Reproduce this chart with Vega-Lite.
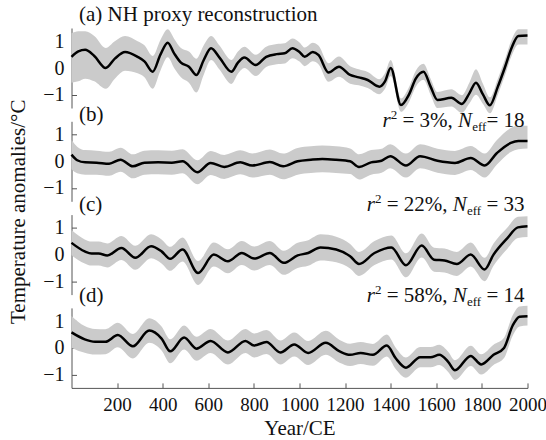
{
  "$schema": "https://vega.github.io/schema/vega-lite/v6.json",
  "padding": {"left": 6.5, "top": 4, "right": 0, "bottom": 0},
  "spacing": 13.3,
  "bounds": "flush",
  "config": {
    "view": {"stroke": null},
    "font": "Liberation Serif",
    "axis": {
      "grid": false,
      "labelFont": "Liberation Serif",
      "labelFontSize": 20,
      "labelColor": "#111",
      "domainColor": "#555",
      "tickColor": "#555",
      "tickSize": -5,
      "titleFont": "Liberation Serif",
      "titleFontSize": 21,
      "titleFontWeight": "normal",
      "titleColor": "#111",
      "labelFlush": false,
      "labelOverlap": false
    },
    "text": {"font": "Liberation Serif", "fontSize": 21, "color": "#111"}
  },
  "datasets": {
    "a": [
      {"year": 0, "v": 0.42, "lo": -0.55, "hi": 1.3},
      {"year": 30, "v": 0.62, "lo": -0.5, "hi": 1.38},
      {"year": 60, "v": 0.68, "lo": -0.4, "hi": 1.38},
      {"year": 100, "v": 0.45, "lo": -0.5, "hi": 1.2},
      {"year": 150, "v": 0.0, "lo": -0.78, "hi": 0.75},
      {"year": 190, "v": 0.35, "lo": -0.4, "hi": 1.0},
      {"year": 235, "v": 0.6, "lo": -0.1, "hi": 1.2},
      {"year": 290, "v": 0.42, "lo": -0.2, "hi": 1.0},
      {"year": 320, "v": 0.25, "lo": -0.35, "hi": 0.85},
      {"year": 356, "v": -0.14, "lo": -0.78, "hi": 0.45},
      {"year": 390, "v": 0.5, "lo": -0.1, "hi": 1.05},
      {"year": 422, "v": 0.95, "lo": 0.4, "hi": 1.45},
      {"year": 450, "v": 0.55, "lo": 0.0, "hi": 1.1},
      {"year": 480, "v": 0.2, "lo": -0.35, "hi": 0.75},
      {"year": 515, "v": 0.05, "lo": -0.55, "hi": 0.62},
      {"year": 548, "v": -0.26, "lo": -0.92, "hi": 0.35},
      {"year": 580, "v": 0.3, "lo": -0.25, "hi": 0.85},
      {"year": 612, "v": 0.74, "lo": 0.3, "hi": 1.2},
      {"year": 650, "v": 0.38, "lo": -0.07, "hi": 0.83},
      {"year": 701, "v": -0.14, "lo": -0.6, "hi": 0.3},
      {"year": 730, "v": 0.2, "lo": -0.22, "hi": 0.62},
      {"year": 758, "v": 0.39, "lo": 0.0, "hi": 0.8},
      {"year": 808, "v": 0.11, "lo": -0.3, "hi": 0.5},
      {"year": 854, "v": 0.42, "lo": 0.04, "hi": 0.8},
      {"year": 900, "v": 0.52, "lo": 0.14, "hi": 0.9},
      {"year": 935, "v": 0.55, "lo": 0.17, "hi": 0.93},
      {"year": 969, "v": 0.74, "lo": 0.37, "hi": 1.11},
      {"year": 1000, "v": 0.6, "lo": 0.24, "hi": 0.96},
      {"year": 1023, "v": 0.42, "lo": 0.07, "hi": 0.77},
      {"year": 1058, "v": 0.6, "lo": 0.25, "hi": 0.95},
      {"year": 1084, "v": 0.48, "lo": 0.13, "hi": 0.83},
      {"year": 1127, "v": -0.17, "lo": -0.52, "hi": 0.18},
      {"year": 1173, "v": 0.05, "lo": -0.33, "hi": 0.43},
      {"year": 1222, "v": -0.26, "lo": -0.59, "hi": 0.07},
      {"year": 1260, "v": -0.35, "lo": -0.65, "hi": -0.05},
      {"year": 1299, "v": -0.45, "lo": -0.75, "hi": -0.15},
      {"year": 1350, "v": -0.7, "lo": -0.98, "hi": -0.42},
      {"year": 1375, "v": -0.5, "lo": -0.78, "hi": -0.2},
      {"year": 1400, "v": 0.0, "lo": -0.3, "hi": 0.3},
      {"year": 1445, "v": -1.39, "lo": -1.64, "hi": -1.14},
      {"year": 1480, "v": -1.0, "lo": -1.28, "hi": -0.72},
      {"year": 1510, "v": -0.4, "lo": -0.7, "hi": -0.1},
      {"year": 1544, "v": -0.14, "lo": -0.44, "hi": 0.16},
      {"year": 1575, "v": -0.7, "lo": -1.0, "hi": -0.4},
      {"year": 1605, "v": -1.2, "lo": -1.5, "hi": -0.9},
      {"year": 1666, "v": -1.12, "lo": -1.44, "hi": -0.8},
      {"year": 1712, "v": -1.35, "lo": -1.68, "hi": -1.02},
      {"year": 1745, "v": -0.95, "lo": -1.33, "hi": -0.55},
      {"year": 1774, "v": -0.55, "lo": -1.0, "hi": -0.05},
      {"year": 1805, "v": -1.0, "lo": -1.35, "hi": -0.6},
      {"year": 1835, "v": -1.4, "lo": -1.7, "hi": -1.1},
      {"year": 1870, "v": -0.7, "lo": -1.0, "hi": -0.4},
      {"year": 1900, "v": 0.0, "lo": -0.3, "hi": 0.3},
      {"year": 1930, "v": 0.75, "lo": 0.45, "hi": 1.05},
      {"year": 1960, "v": 1.2, "lo": 0.88, "hi": 1.45},
      {"year": 2000, "v": 1.22, "lo": 0.88, "hi": 1.45}
    ],
    "b": [
      {"year": 0, "v": 0.25, "lo": -0.3, "hi": 0.8},
      {"year": 25, "v": 0.04, "lo": -0.45, "hi": 0.55},
      {"year": 60, "v": -0.04, "lo": -0.5, "hi": 0.42},
      {"year": 110, "v": -0.05, "lo": -0.5, "hi": 0.4},
      {"year": 165, "v": -0.09, "lo": -0.54, "hi": 0.36},
      {"year": 215, "v": 0.06, "lo": -0.39, "hi": 0.51},
      {"year": 269, "v": -0.19, "lo": -0.64, "hi": 0.26},
      {"year": 320, "v": -0.05, "lo": -0.5, "hi": 0.4},
      {"year": 380, "v": -0.04, "lo": -0.49, "hi": 0.41},
      {"year": 440, "v": -0.05, "lo": -0.5, "hi": 0.4},
      {"year": 487, "v": 0.0, "lo": -0.45, "hi": 0.45},
      {"year": 552, "v": -0.41, "lo": -0.86, "hi": 0.04},
      {"year": 610, "v": -0.06, "lo": -0.51, "hi": 0.39},
      {"year": 670, "v": -0.21, "lo": -0.66, "hi": 0.24},
      {"year": 740, "v": -0.04, "lo": -0.49, "hi": 0.41},
      {"year": 793, "v": -0.16, "lo": -0.61, "hi": 0.29},
      {"year": 870, "v": -0.03, "lo": -0.5, "hi": 0.44},
      {"year": 928, "v": -0.19, "lo": -0.67, "hi": 0.29},
      {"year": 992, "v": 0.0, "lo": -0.5, "hi": 0.5},
      {"year": 1050, "v": 0.06, "lo": -0.44, "hi": 0.56},
      {"year": 1100, "v": 0.09, "lo": -0.41, "hi": 0.59},
      {"year": 1160, "v": 0.06, "lo": -0.44, "hi": 0.56},
      {"year": 1222, "v": 0.0, "lo": -0.48, "hi": 0.48},
      {"year": 1261, "v": -0.21, "lo": -0.68, "hi": 0.26},
      {"year": 1314, "v": -0.04, "lo": -0.5, "hi": 0.42},
      {"year": 1360, "v": 0.02, "lo": -0.43, "hi": 0.47},
      {"year": 1398, "v": 0.19, "lo": -0.26, "hi": 0.64},
      {"year": 1467, "v": -0.16, "lo": -0.61, "hi": 0.29},
      {"year": 1529, "v": 0.19, "lo": -0.26, "hi": 0.64},
      {"year": 1605, "v": 0.02, "lo": -0.43, "hi": 0.47},
      {"year": 1682, "v": -0.06, "lo": -0.51, "hi": 0.39},
      {"year": 1751, "v": 0.12, "lo": -0.33, "hi": 0.57},
      {"year": 1812, "v": -0.16, "lo": -0.61, "hi": 0.29},
      {"year": 1866, "v": 0.31, "lo": -0.12, "hi": 0.8},
      {"year": 1927, "v": 0.69, "lo": 0.35, "hi": 1.25},
      {"year": 1960, "v": 0.76, "lo": 0.45, "hi": 1.33},
      {"year": 2000, "v": 0.76, "lo": 0.48, "hi": 1.33}
    ],
    "c": [
      {"year": 0, "v": 0.44, "lo": -0.02, "hi": 0.92},
      {"year": 58, "v": 0.12, "lo": -0.33, "hi": 0.57},
      {"year": 88, "v": 0.04, "lo": -0.41, "hi": 0.49},
      {"year": 119, "v": 0.04, "lo": -0.41, "hi": 0.49},
      {"year": 157, "v": -0.03, "lo": -0.48, "hi": 0.42},
      {"year": 219, "v": 0.25, "lo": -0.2, "hi": 0.7},
      {"year": 280, "v": -0.12, "lo": -0.57, "hi": 0.33},
      {"year": 349, "v": 0.31, "lo": -0.14, "hi": 0.76},
      {"year": 395, "v": 0.12, "lo": -0.33, "hi": 0.57},
      {"year": 433, "v": -0.16, "lo": -0.61, "hi": 0.29},
      {"year": 487, "v": 0.19, "lo": -0.26, "hi": 0.64},
      {"year": 555, "v": -0.69, "lo": -1.14, "hi": -0.24},
      {"year": 624, "v": 0.0, "lo": -0.45, "hi": 0.45},
      {"year": 686, "v": -0.25, "lo": -0.7, "hi": 0.2},
      {"year": 747, "v": 0.06, "lo": -0.39, "hi": 0.51},
      {"year": 801, "v": -0.15, "lo": -0.6, "hi": 0.3},
      {"year": 870, "v": 0.06, "lo": -0.39, "hi": 0.51},
      {"year": 931, "v": -0.31, "lo": -0.76, "hi": 0.14},
      {"year": 992, "v": -0.03, "lo": -0.5, "hi": 0.44},
      {"year": 1038, "v": 0.06, "lo": -0.42, "hi": 0.54},
      {"year": 1092, "v": 0.27, "lo": -0.22, "hi": 0.76},
      {"year": 1161, "v": 0.19, "lo": -0.29, "hi": 0.67},
      {"year": 1222, "v": -0.06, "lo": -0.52, "hi": 0.4},
      {"year": 1261, "v": -0.35, "lo": -0.8, "hi": 0.1},
      {"year": 1329, "v": 0.06, "lo": -0.39, "hi": 0.51},
      {"year": 1403, "v": 0.27, "lo": -0.18, "hi": 0.72},
      {"year": 1467, "v": -0.4, "lo": -0.85, "hi": 0.05},
      {"year": 1536, "v": 0.34, "lo": -0.11, "hi": 0.79},
      {"year": 1590, "v": -0.19, "lo": -0.64, "hi": 0.26},
      {"year": 1636, "v": -0.22, "lo": -0.67, "hi": 0.23},
      {"year": 1690, "v": -0.35, "lo": -0.8, "hi": 0.1},
      {"year": 1751, "v": 0.0, "lo": -0.45, "hi": 0.45},
      {"year": 1812, "v": -0.56, "lo": -1.0, "hi": -0.12},
      {"year": 1851, "v": 0.0, "lo": -0.42, "hi": 0.42},
      {"year": 1912, "v": 0.62, "lo": 0.22, "hi": 1.02},
      {"year": 1958, "v": 1.02, "lo": 0.62, "hi": 1.42},
      {"year": 2000, "v": 1.06, "lo": 0.66, "hi": 1.44}
    ],
    "d": [
      {"year": 0, "v": 0.58, "lo": 0.0, "hi": 1.2},
      {"year": 58, "v": 0.32, "lo": -0.18, "hi": 0.82},
      {"year": 103, "v": 0.23, "lo": -0.25, "hi": 0.71},
      {"year": 149, "v": 0.23, "lo": -0.24, "hi": 0.7},
      {"year": 203, "v": 0.48, "lo": 0.02, "hi": 0.94},
      {"year": 269, "v": 0.06, "lo": -0.4, "hi": 0.52},
      {"year": 341, "v": 0.65, "lo": 0.19, "hi": 1.11},
      {"year": 395, "v": 0.35, "lo": -0.1, "hi": 0.8},
      {"year": 433, "v": -0.13, "lo": -0.58, "hi": 0.32},
      {"year": 494, "v": 0.39, "lo": -0.06, "hi": 0.84},
      {"year": 548, "v": -0.03, "lo": -0.48, "hi": 0.42},
      {"year": 610, "v": 0.26, "lo": -0.19, "hi": 0.71},
      {"year": 686, "v": -0.17, "lo": -0.62, "hi": 0.28},
      {"year": 763, "v": 0.26, "lo": -0.19, "hi": 0.71},
      {"year": 801, "v": 0.09, "lo": -0.36, "hi": 0.54},
      {"year": 855, "v": 0.22, "lo": -0.23, "hi": 0.67},
      {"year": 916, "v": -0.17, "lo": -0.62, "hi": 0.28},
      {"year": 977, "v": 0.13, "lo": -0.32, "hi": 0.58},
      {"year": 1038, "v": -0.19, "lo": -0.64, "hi": 0.26},
      {"year": 1115, "v": 0.19, "lo": -0.26, "hi": 0.64},
      {"year": 1176, "v": -0.13, "lo": -0.56, "hi": 0.3},
      {"year": 1222, "v": -0.26, "lo": -0.68, "hi": 0.16},
      {"year": 1268, "v": -0.19, "lo": -0.6, "hi": 0.22},
      {"year": 1322, "v": -0.26, "lo": -0.67, "hi": 0.15},
      {"year": 1383, "v": 0.09, "lo": -0.32, "hi": 0.5},
      {"year": 1422, "v": -0.39, "lo": -0.79, "hi": 0.01},
      {"year": 1467, "v": -0.74, "lo": -1.12, "hi": -0.36},
      {"year": 1529, "v": -0.35, "lo": -0.73, "hi": 0.03},
      {"year": 1575, "v": -0.35, "lo": -0.73, "hi": 0.03},
      {"year": 1613, "v": -0.26, "lo": -0.64, "hi": 0.12},
      {"year": 1652, "v": -0.52, "lo": -0.9, "hi": -0.14},
      {"year": 1682, "v": -0.84, "lo": -1.2, "hi": -0.46},
      {"year": 1751, "v": -0.3, "lo": -0.68, "hi": 0.08},
      {"year": 1797, "v": -0.62, "lo": -1.0, "hi": -0.24},
      {"year": 1851, "v": -0.26, "lo": -0.64, "hi": 0.12},
      {"year": 1897, "v": 0.0, "lo": -0.38, "hi": 0.38},
      {"year": 1935, "v": 0.84, "lo": 0.46, "hi": 1.22},
      {"year": 1965, "v": 1.17, "lo": 0.8, "hi": 1.55},
      {"year": 2000, "v": 1.19, "lo": 0.84, "hi": 1.58}
    ]
  },
  "vconcat": [
    {
      "width": 456, "height": 80,
      "layer": [
        {"data": {"name": "a"}, "mark": {"type": "area", "interpolate": "monotone", "color": "#cbcbcb"},
         "encoding": {"x": {"field": "year", "type": "quantitative", "scale": {"domain": [0, 2000]}, "axis": null},
                      "y": {"field": "lo", "type": "quantitative", "scale": {"domain": [-1.5, 1.5]}, "axis": {"tickCount": 3, "title": null, "labelOverlap": false, "labelPadding": 12.5}},
                      "y2": {"field": "hi"}}},
        {"data": {"name": "a"}, "mark": {"type": "line", "interpolate": "monotone", "color": "#000", "strokeWidth": 2.5},
         "encoding": {"x": {"field": "year", "type": "quantitative", "scale": {"domain": [0, 2000]}, "axis": null}, "y": {"field": "v", "type": "quantitative", "scale": {"domain": [-1.5, 1.5]}}}},
        {"data": {"values": [{}]}, "mark": {"type": "text", "text": "(a) NH proxy reconstruction", "align": "left", "baseline": "alphabetic", "dx": 7.5},
         "encoding": {"x": {"datum": 0, "type": "quantitative", "scale": {"domain": [0, 2000]}, "axis": null}, "y": {"datum": 1.75, "type": "quantitative", "scale": {"domain": [-1.5, 1.5]}}}}
      ]
    },
    {
      "width": 456, "height": 80,
      "layer": [
        {"data": {"name": "b"}, "mark": {"type": "area", "interpolate": "monotone", "color": "#cbcbcb"},
         "encoding": {"x": {"field": "year", "type": "quantitative", "scale": {"domain": [0, 2000]}, "axis": null},
                      "y": {"field": "lo", "type": "quantitative", "scale": {"domain": [-1.5, 1.5]},
                            "axis": {"tickCount": 3, "labelOverlap": false, "labelPadding": 12.5, "title": "Temperature anomalies/°C", "titleAngle": 270, "titleAlign": "center", "titleBaseline": "alphabetic", "titleX": -47, "titleY": 90}},
                      "y2": {"field": "hi"}}},
        {"data": {"name": "b"}, "mark": {"type": "line", "interpolate": "monotone", "color": "#000", "strokeWidth": 2.5},
         "encoding": {"x": {"field": "year", "type": "quantitative", "scale": {"domain": [0, 2000]}, "axis": null}, "y": {"field": "v", "type": "quantitative", "scale": {"domain": [-1.5, 1.5]}}}},
        {"data": {"values": [{}]}, "mark": {"type": "text", "text": "(b)", "align": "left", "baseline": "alphabetic", "dx": 7.5},
         "encoding": {"x": {"datum": 0, "type": "quantitative", "scale": {"domain": [0, 2000]}, "axis": null}, "y": {"datum": 1.5, "type": "quantitative", "scale": {"domain": [-1.5, 1.5]}}}},
        {"data": {"values": [{}]}, "mark": {"type": "text", "text": "= 18", "align": "right", "baseline": "alphabetic", "dx": -3},
         "encoding": {"x": {"datum": 2000, "type": "quantitative", "scale": {"domain": [0, 2000]}, "axis": null}, "y": {"datum": 1.3, "type": "quantitative", "scale": {"domain": [-1.5, 1.5]}}}},
        {"data": {"values": [{}]}, "mark": {"type": "text", "text": "eff", "align": "right", "baseline": "alphabetic", "fontSize": 13, "dx": -41.1, "dy": 4},
         "encoding": {"x": {"datum": 2000, "type": "quantitative", "scale": {"domain": [0, 2000]}, "axis": null}, "y": {"datum": 1.3, "type": "quantitative", "scale": {"domain": [-1.5, 1.5]}}}},
        {"data": {"values": [{}]}, "mark": {"type": "text", "text": "N", "align": "right", "baseline": "alphabetic", "fontStyle": "italic", "dx": -55.5},
         "encoding": {"x": {"datum": 2000, "type": "quantitative", "scale": {"domain": [0, 2000]}, "axis": null}, "y": {"datum": 1.3, "type": "quantitative", "scale": {"domain": [-1.5, 1.5]}}}},
        {"data": {"values": [{}]}, "mark": {"type": "text", "text": "= 3%,", "align": "right", "baseline": "alphabetic", "dx": -74.75},
         "encoding": {"x": {"datum": 2000, "type": "quantitative", "scale": {"domain": [0, 2000]}, "axis": null}, "y": {"datum": 1.3, "type": "quantitative", "scale": {"domain": [-1.5, 1.5]}}}},
        {"data": {"values": [{}]}, "mark": {"type": "text", "text": "2", "align": "right", "baseline": "alphabetic", "fontSize": 13, "dx": -130.3, "dy": -8},
         "encoding": {"x": {"datum": 2000, "type": "quantitative", "scale": {"domain": [0, 2000]}, "axis": null}, "y": {"datum": 1.3, "type": "quantitative", "scale": {"domain": [-1.5, 1.5]}}}},
        {"data": {"values": [{}]}, "mark": {"type": "text", "text": "r", "align": "right", "baseline": "alphabetic", "fontStyle": "italic", "dx": -136.8},
         "encoding": {"x": {"datum": 2000, "type": "quantitative", "scale": {"domain": [0, 2000]}, "axis": null}, "y": {"datum": 1.3, "type": "quantitative", "scale": {"domain": [-1.5, 1.5]}}}}
      ]
    },
    {
      "width": 456, "height": 80,
      "layer": [
        {"data": {"name": "c"}, "mark": {"type": "area", "interpolate": "monotone", "color": "#cbcbcb"},
         "encoding": {"x": {"field": "year", "type": "quantitative", "scale": {"domain": [0, 2000]}, "axis": null},
                      "y": {"field": "lo", "type": "quantitative", "scale": {"domain": [-1.5, 1.5]}, "axis": {"tickCount": 3, "title": null, "labelOverlap": false, "labelPadding": 12.5}},
                      "y2": {"field": "hi"}}},
        {"data": {"name": "c"}, "mark": {"type": "line", "interpolate": "monotone", "color": "#000", "strokeWidth": 2.5},
         "encoding": {"x": {"field": "year", "type": "quantitative", "scale": {"domain": [0, 2000]}, "axis": null}, "y": {"field": "v", "type": "quantitative", "scale": {"domain": [-1.5, 1.5]}}}},
        {"data": {"values": [{}]}, "mark": {"type": "text", "text": "(c)", "align": "left", "baseline": "alphabetic", "dx": 7.5},
         "encoding": {"x": {"datum": 0, "type": "quantitative", "scale": {"domain": [0, 2000]}, "axis": null}, "y": {"datum": 1.65, "type": "quantitative", "scale": {"domain": [-1.5, 1.5]}}}},
        {"data": {"values": [{}]}, "mark": {"type": "text", "text": "= 33", "align": "right", "baseline": "alphabetic", "dx": -3},
         "encoding": {"x": {"datum": 2000, "type": "quantitative", "scale": {"domain": [0, 2000]}, "axis": null}, "y": {"datum": 1.65, "type": "quantitative", "scale": {"domain": [-1.5, 1.5]}}}},
        {"data": {"values": [{}]}, "mark": {"type": "text", "text": "eff", "align": "right", "baseline": "alphabetic", "fontSize": 13, "dx": -46.35, "dy": 4},
         "encoding": {"x": {"datum": 2000, "type": "quantitative", "scale": {"domain": [0, 2000]}, "axis": null}, "y": {"datum": 1.65, "type": "quantitative", "scale": {"domain": [-1.5, 1.5]}}}},
        {"data": {"values": [{}]}, "mark": {"type": "text", "text": "N", "align": "right", "baseline": "alphabetic", "fontStyle": "italic", "dx": -60.75},
         "encoding": {"x": {"datum": 2000, "type": "quantitative", "scale": {"domain": [0, 2000]}, "axis": null}, "y": {"datum": 1.65, "type": "quantitative", "scale": {"domain": [-1.5, 1.5]}}}},
        {"data": {"values": [{}]}, "mark": {"type": "text", "text": "= 22%,", "align": "right", "baseline": "alphabetic", "dx": -80},
         "encoding": {"x": {"datum": 2000, "type": "quantitative", "scale": {"domain": [0, 2000]}, "axis": null}, "y": {"datum": 1.65, "type": "quantitative", "scale": {"domain": [-1.5, 1.5]}}}},
        {"data": {"values": [{}]}, "mark": {"type": "text", "text": "2", "align": "right", "baseline": "alphabetic", "fontSize": 13, "dx": -146.05, "dy": -8},
         "encoding": {"x": {"datum": 2000, "type": "quantitative", "scale": {"domain": [0, 2000]}, "axis": null}, "y": {"datum": 1.65, "type": "quantitative", "scale": {"domain": [-1.5, 1.5]}}}},
        {"data": {"values": [{}]}, "mark": {"type": "text", "text": "r", "align": "right", "baseline": "alphabetic", "fontStyle": "italic", "dx": -152.55},
         "encoding": {"x": {"datum": 2000, "type": "quantitative", "scale": {"domain": [0, 2000]}, "axis": null}, "y": {"datum": 1.65, "type": "quantitative", "scale": {"domain": [-1.5, 1.5]}}}}
      ]
    },
    {
      "width": 456, "height": 80,
      "layer": [
        {"data": {"name": "d"}, "mark": {"type": "area", "interpolate": "monotone", "color": "#cbcbcb"},
         "encoding": {"x": {"field": "year", "type": "quantitative", "scale": {"domain": [0, 2000]},
                            "axis": {"values": [200, 400, 600, 800, 1000, 1200, 1400, 1600, 1800, 2000], "format": "d", "labelFontSize": 19, "labelOverlap": false, "labelBaseline": "alphabetic", "labelPadding": 27.8, "title": "Year/CE", "titleBaseline": "alphabetic", "titleY": 46.5}},
                      "y": {"field": "lo", "type": "quantitative", "scale": {"domain": [-1.5, 1.5]}, "axis": {"tickCount": 3, "title": null, "labelOverlap": false, "labelPadding": 12.5}},
                      "y2": {"field": "hi"}}},
        {"data": {"name": "d"}, "mark": {"type": "line", "interpolate": "monotone", "color": "#000", "strokeWidth": 2.5},
         "encoding": {"x": {"field": "year", "type": "quantitative", "scale": {"domain": [0, 2000]}}, "y": {"field": "v", "type": "quantitative", "scale": {"domain": [-1.5, 1.5]}}}},
        {"data": {"values": [{}]}, "mark": {"type": "text", "text": "(d)", "align": "left", "baseline": "alphabetic", "dx": 7.5},
         "encoding": {"x": {"datum": 0, "type": "quantitative", "scale": {"domain": [0, 2000]}}, "y": {"datum": 1.72, "type": "quantitative", "scale": {"domain": [-1.5, 1.5]}}}},
        {"data": {"values": [{}]}, "mark": {"type": "text", "text": "= 14", "align": "right", "baseline": "alphabetic", "dx": -3},
         "encoding": {"x": {"datum": 2000, "type": "quantitative", "scale": {"domain": [0, 2000]}}, "y": {"datum": 1.72, "type": "quantitative", "scale": {"domain": [-1.5, 1.5]}}}},
        {"data": {"values": [{}]}, "mark": {"type": "text", "text": "eff", "align": "right", "baseline": "alphabetic", "fontSize": 13, "dx": -46.35, "dy": 4},
         "encoding": {"x": {"datum": 2000, "type": "quantitative", "scale": {"domain": [0, 2000]}}, "y": {"datum": 1.72, "type": "quantitative", "scale": {"domain": [-1.5, 1.5]}}}},
        {"data": {"values": [{}]}, "mark": {"type": "text", "text": "N", "align": "right", "baseline": "alphabetic", "fontStyle": "italic", "dx": -60.75},
         "encoding": {"x": {"datum": 2000, "type": "quantitative", "scale": {"domain": [0, 2000]}}, "y": {"datum": 1.72, "type": "quantitative", "scale": {"domain": [-1.5, 1.5]}}}},
        {"data": {"values": [{}]}, "mark": {"type": "text", "text": "= 58%,", "align": "right", "baseline": "alphabetic", "dx": -80},
         "encoding": {"x": {"datum": 2000, "type": "quantitative", "scale": {"domain": [0, 2000]}}, "y": {"datum": 1.72, "type": "quantitative", "scale": {"domain": [-1.5, 1.5]}}}},
        {"data": {"values": [{}]}, "mark": {"type": "text", "text": "2", "align": "right", "baseline": "alphabetic", "fontSize": 13, "dx": -146.05, "dy": -8},
         "encoding": {"x": {"datum": 2000, "type": "quantitative", "scale": {"domain": [0, 2000]}}, "y": {"datum": 1.72, "type": "quantitative", "scale": {"domain": [-1.5, 1.5]}}}},
        {"data": {"values": [{}]}, "mark": {"type": "text", "text": "r", "align": "right", "baseline": "alphabetic", "fontStyle": "italic", "dx": -152.55},
         "encoding": {"x": {"datum": 2000, "type": "quantitative", "scale": {"domain": [0, 2000]}}, "y": {"datum": 1.72, "type": "quantitative", "scale": {"domain": [-1.5, 1.5]}}}}
      ]
    }
  ]
}
